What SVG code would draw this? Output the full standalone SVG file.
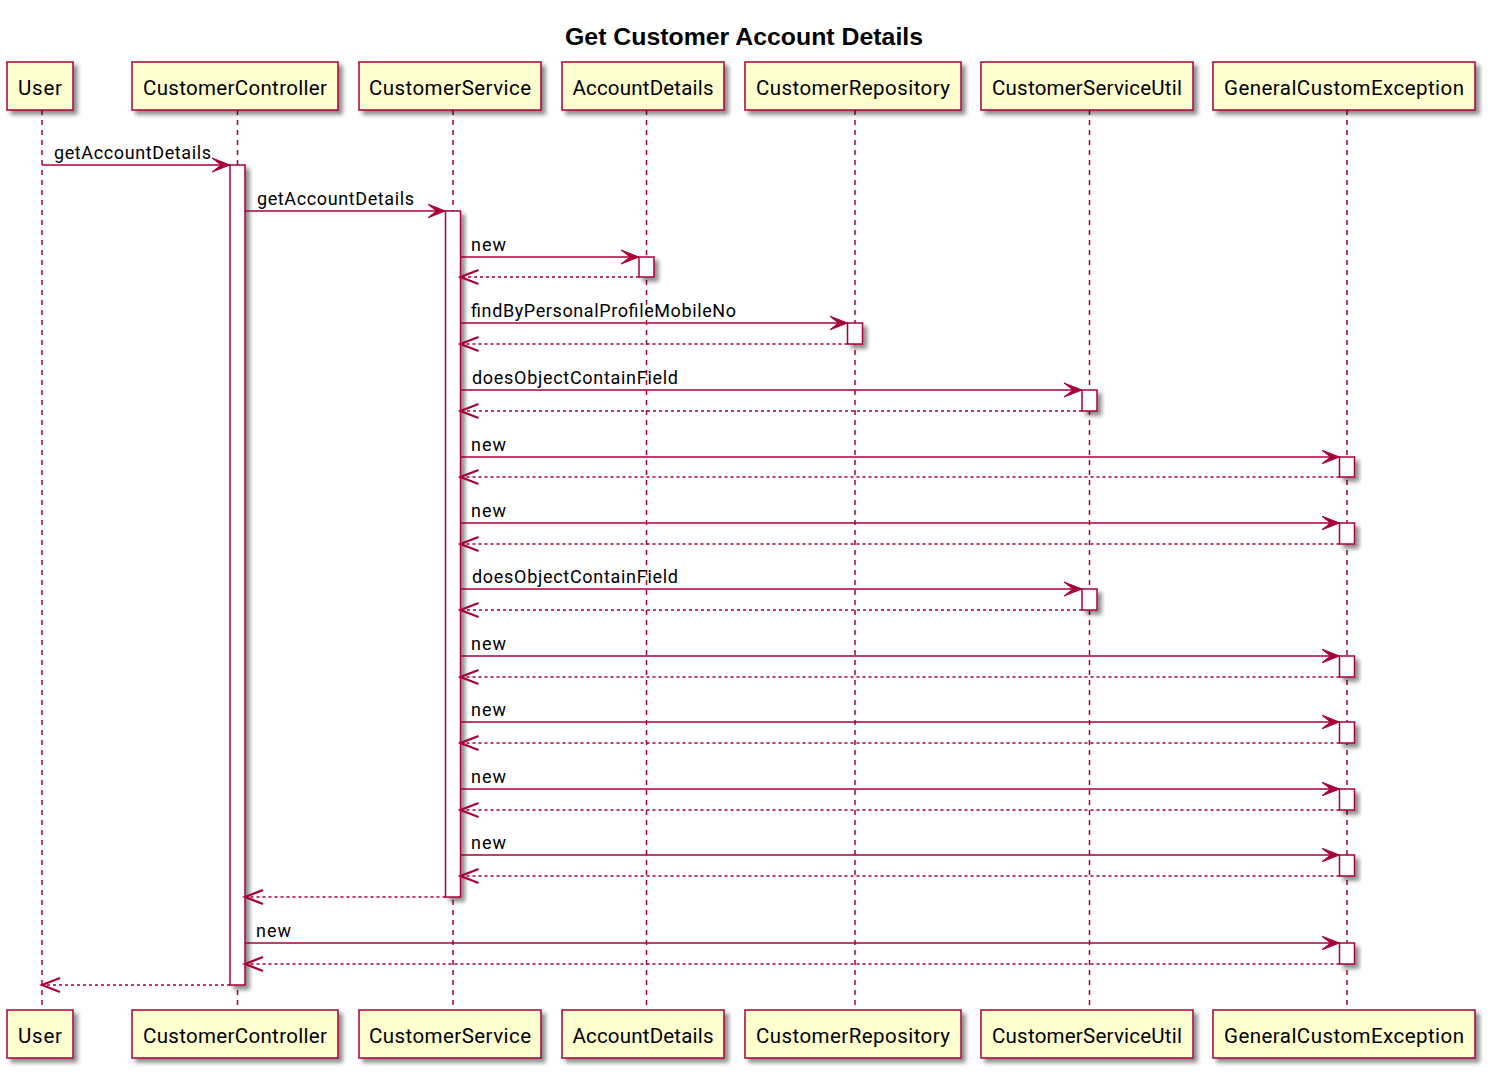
<svg xmlns="http://www.w3.org/2000/svg" width="1494" height="1077" viewBox="0 0 1494 1077">
<style>
.box{fill:#FEFECE;stroke:#A80036;stroke-width:1.5}
.act{fill:#FFFFFF;stroke:#A80036;stroke-width:1.5}
.life{stroke:#A80036;stroke-width:1.5;stroke-dasharray:5,5;fill:none}
.pt{font-family:Roboto,"Liberation Sans",sans-serif;font-size:20.5px;fill:#000;text-anchor:middle}
.ml{font-family:Roboto,"Liberation Sans",sans-serif;font-size:18px;fill:#000}
.msg{stroke:#A80036;stroke-width:1.5;fill:none;marker-end:url(#ah)}
.ret{stroke:#A80036;stroke-width:1.5;fill:none;stroke-dasharray:3,3;marker-end:url(#oh)}
.title{font-family:"Liberation Sans",Arial,sans-serif;font-size:24px;font-weight:bold;text-anchor:middle;fill:#000}
</style>
<defs>
<filter id="sh" x="-50%" y="-50%" width="200%" height="200%">
<feGaussianBlur in="SourceAlpha" stdDeviation="2"/>
<feOffset dx="4" dy="4" result="o"/>
<feComponentTransfer><feFuncA type="linear" slope="0.45"/></feComponentTransfer>
<feMerge><feMergeNode/><feMergeNode in="SourceGraphic"/></feMerge>
</filter>
<marker id="ah" markerUnits="userSpaceOnUse" markerWidth="20" markerHeight="16" refX="18" refY="8" orient="auto">
<path d="M0,1 L18,8 L0,15 L9,8 Z" fill="#A80036" stroke="#A80036" stroke-width="1" stroke-dasharray="none"/>
</marker>
<marker id="oh" markerUnits="userSpaceOnUse" markerWidth="22" markerHeight="18" refX="19" refY="9" orient="auto">
<path d="M1,2 L19,9 L1,16" fill="none" stroke="#A80036" stroke-width="2.2" stroke-dasharray="none"/>
</marker>
</defs>
<rect width="1494" height="1077" fill="#FFFFFF"/>
<text class="title" x="744" y="45" textLength="358" lengthAdjust="spacingAndGlyphs">Get Customer Account Details</text>

<g id="User">
<line class="life" x1="42" y1="110" x2="42" y2="1010"/>
<rect class="box" x="7" y="62" width="66" height="48" filter="url(#sh)"/>
<text class="pt" x="40" y="95" textLength="44">User</text>
<rect class="box" x="7" y="1010" width="66" height="48" filter="url(#sh)"/>
<text class="pt" x="40" y="1043" textLength="44">User</text>
</g>

<g id="CustomerController">
<line class="life" x1="237.5" y1="110" x2="237.5" y2="1010"/>
<rect class="box" x="132" y="62" width="206" height="48" filter="url(#sh)"/>
<text class="pt" x="235" y="95" textLength="184">CustomerController</text>
<rect class="box" x="132" y="1010" width="206" height="48" filter="url(#sh)"/>
<text class="pt" x="235" y="1043" textLength="184">CustomerController</text>
<rect class="act" x="230" y="165" width="15" height="820" filter="url(#sh)"/>
</g>

<g id="CustomerService">
<line class="life" x1="453" y1="110" x2="453" y2="1010"/>
<rect class="box" x="359" y="62" width="182" height="48" filter="url(#sh)"/>
<text class="pt" x="450" y="95" textLength="162">CustomerService</text>
<rect class="box" x="359" y="1010" width="182" height="48" filter="url(#sh)"/>
<text class="pt" x="450" y="1043" textLength="162">CustomerService</text>
<rect class="act" x="445.5" y="211" width="15" height="686" filter="url(#sh)"/>
</g>

<g id="AccountDetails">
<line class="life" x1="646.5" y1="110" x2="646.5" y2="1010"/>
<rect class="box" x="562" y="62" width="162" height="48" filter="url(#sh)"/>
<text class="pt" x="643" y="95" textLength="141">AccountDetails</text>
<rect class="box" x="562" y="1010" width="162" height="48" filter="url(#sh)"/>
<text class="pt" x="643" y="1043" textLength="141">AccountDetails</text>
<rect class="act" x="639" y="257" width="15" height="20" filter="url(#sh)"/>
</g>

<g id="CustomerRepository">
<line class="life" x1="855" y1="110" x2="855" y2="1010"/>
<rect class="box" x="745" y="62" width="216" height="48" filter="url(#sh)"/>
<text class="pt" x="853" y="95" textLength="194">CustomerRepository</text>
<rect class="box" x="745" y="1010" width="216" height="48" filter="url(#sh)"/>
<text class="pt" x="853" y="1043" textLength="194">CustomerRepository</text>
<rect class="act" x="847.5" y="323" width="15" height="21" filter="url(#sh)"/>
</g>

<g id="CustomerServiceUtil">
<line class="life" x1="1089.5" y1="110" x2="1089.5" y2="1010"/>
<rect class="box" x="981" y="62" width="212" height="48" filter="url(#sh)"/>
<text class="pt" x="1087" y="95" textLength="190">CustomerServiceUtil</text>
<rect class="box" x="981" y="1010" width="212" height="48" filter="url(#sh)"/>
<text class="pt" x="1087" y="1043" textLength="190">CustomerServiceUtil</text>
<rect class="act" x="1082" y="390" width="15" height="21" filter="url(#sh)"/>
<rect class="act" x="1082" y="589" width="15" height="21" filter="url(#sh)"/>
</g>

<g id="GeneralCustomException">
<line class="life" x1="1347" y1="110" x2="1347" y2="1010"/>
<rect class="box" x="1213" y="62" width="262" height="48" filter="url(#sh)"/>
<text class="pt" x="1344" y="95" textLength="240">GeneralCustomException</text>
<rect class="box" x="1213" y="1010" width="262" height="48" filter="url(#sh)"/>
<text class="pt" x="1344" y="1043" textLength="240">GeneralCustomException</text>
<rect class="act" x="1339.5" y="457" width="15" height="20" filter="url(#sh)"/>
<rect class="act" x="1339.5" y="523" width="15" height="21" filter="url(#sh)"/>
<rect class="act" x="1339.5" y="656" width="15" height="21" filter="url(#sh)"/>
<rect class="act" x="1339.5" y="722" width="15" height="21" filter="url(#sh)"/>
<rect class="act" x="1339.5" y="789" width="15" height="21" filter="url(#sh)"/>
<rect class="act" x="1339.5" y="855" width="15" height="21" filter="url(#sh)"/>
<rect class="act" x="1339.5" y="943" width="15" height="21" filter="url(#sh)"/>
</g>

<g id="connectors">
<line class="msg" x1="42" y1="165" x2="230" y2="165"/>
<text class="ml" x="54" y="159" textLength="157">getAccountDetails</text>
<line class="msg" x1="245" y1="211" x2="445.5" y2="211"/>
<text class="ml" x="257" y="205" textLength="157">getAccountDetails</text>

<line class="msg" x1="460.5" y1="257" x2="639" y2="257"/>
<text class="ml" x="471" y="251" textLength="35">new</text>
<line class="ret" x1="639" y1="277" x2="460.5" y2="277"/>

<line class="msg" x1="460.5" y1="323" x2="847.5" y2="323"/>
<text class="ml" x="471" y="317" textLength="265">findByPersonalProfileMobileNo</text>
<line class="ret" x1="847.5" y1="344" x2="460.5" y2="344"/>

<line class="msg" x1="460.5" y1="390" x2="1082" y2="390"/>
<text class="ml" x="472" y="384" textLength="206">doesObjectContainField</text>
<line class="ret" x1="1082" y1="411" x2="460.5" y2="411"/>

<line class="msg" x1="460.5" y1="457" x2="1339.5" y2="457"/>
<text class="ml" x="471" y="451" textLength="35">new</text>
<line class="ret" x1="1339.5" y1="477" x2="460.5" y2="477"/>

<line class="msg" x1="460.5" y1="523" x2="1339.5" y2="523"/>
<text class="ml" x="471" y="517" textLength="35">new</text>
<line class="ret" x1="1339.5" y1="544" x2="460.5" y2="544"/>

<line class="msg" x1="460.5" y1="589" x2="1082" y2="589"/>
<text class="ml" x="472" y="583" textLength="206">doesObjectContainField</text>
<line class="ret" x1="1082" y1="610" x2="460.5" y2="610"/>

<line class="msg" x1="460.5" y1="656" x2="1339.5" y2="656"/>
<text class="ml" x="471" y="650" textLength="35">new</text>
<line class="ret" x1="1339.5" y1="677" x2="460.5" y2="677"/>

<line class="msg" x1="460.5" y1="722" x2="1339.5" y2="722"/>
<text class="ml" x="471" y="716" textLength="35">new</text>
<line class="ret" x1="1339.5" y1="743" x2="460.5" y2="743"/>

<line class="msg" x1="460.5" y1="789" x2="1339.5" y2="789"/>
<text class="ml" x="471" y="783" textLength="35">new</text>
<line class="ret" x1="1339.5" y1="810" x2="460.5" y2="810"/>

<line class="msg" x1="460.5" y1="855" x2="1339.5" y2="855"/>
<text class="ml" x="471" y="849" textLength="35">new</text>
<line class="ret" x1="1339.5" y1="876" x2="460.5" y2="876"/>

<line class="ret" x1="445.5" y1="897" x2="245" y2="897"/>

<line class="msg" x1="245" y1="943" x2="1339.5" y2="943"/>
<text class="ml" x="256" y="937" textLength="35">new</text>
<line class="ret" x1="1339.5" y1="964" x2="245" y2="964"/>

<line class="ret" x1="230" y1="985" x2="42" y2="985"/>
</g>
</svg>
